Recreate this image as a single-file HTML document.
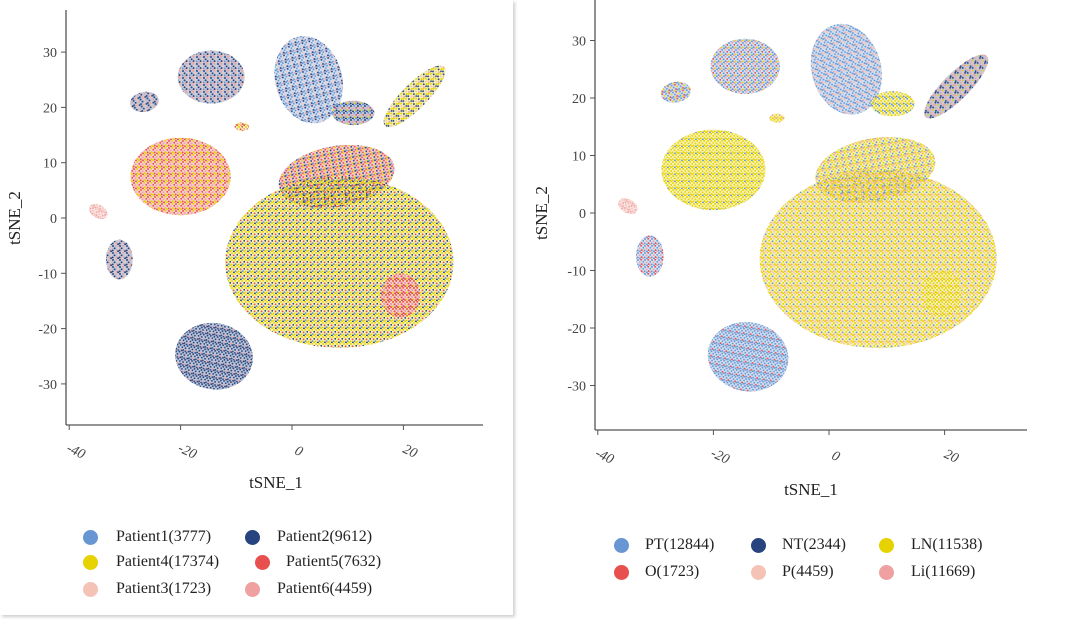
<!DOCTYPE html>
<html><head><meta charset="utf-8">
<style>
body{margin:0;background:#fff;width:1080px;height:619px;overflow:hidden;position:relative;font-family:"Liberation Serif","DejaVu Serif",serif;}
#card{position:absolute;left:0;top:0;width:513px;height:615px;background:#fff;box-shadow:2px 2px 3px #cfcfcf;}
svg{position:absolute;left:0;top:0;}
svg text{font-family:"Liberation Serif","DejaVu Serif",serif;}
.leg{position:absolute;font-size:16px;color:#222;white-space:nowrap;font-family:"Liberation Serif","DejaVu Serif",serif;}
.dot{position:absolute;width:15px;height:15px;border-radius:50%;}
</style></head><body>
<div id="card"></div>
<svg id="chart" width="1080" height="619"></svg>
<div id="legends"></div>
<script>
// ---- data ----
const xTicks=[-40,-20,0,20];
const yTicks=[30,20,10,0,-10,-20,-30];
// cluster shapes in tSNE units
const clusterNames=["top-mid","top-left","small-a","right-elong","small-b","left-big","main-top","main","red-spot","bottom-left","small-c","small-d","small-e"];
const clusterCx=[3,-14.5,-26.5,22,11,-20,8,8.5,19.5,-14,-34.8,-31,-9];
const clusterCy=[25,25.5,21,22,19,7.5,7.5,-8,-14,-25,1.2,-7.5,16.5];
const clusterRx=[6,6,2.6,7.5,3.8,9,10.5,20.5,3.5,7,1.8,2.4,1.3];
const clusterRy=[8,4.8,1.8,2.3,2.2,7,5.5,15.5,4,6,1.2,3.6,0.8];
const clusterRot=[-15,0,-10,-45,0,0,-10,0,0,10,30,0,0];
// colour mixes per cluster (left: patients, right: tissues)
const leftMix=["bnbpbnkb","nkpnbnkp","npkn","ynpnkyn","nbrkny","ryrkryry","rynrbyrn","yynrybny","rrkryr","nnnnnkn","kpkp","nkpn","yrkr"];
const rightMix=["bpbbkbpb","bkrbyb","bryb","nkyknpk","ybyyb","yyyyyyby","ykbyyb","ypybkypy","yyyypy","bbbbbrb","kpkp","brbk","yyyk"];
const colorMap={b:"#6896d2",n:"#27447f",y:"#e6d200",r:"#e8504f",p:"#f4c3b6",k:"#efa0a0"};
const leftLegend=[["Patient1(3777)","#6896d2",90,116,538],["Patient2(9612)","#27447f",252,277,538],["Patient4(17374)","#e6d200",90,116,563],["Patient5(7632)","#e8504f",262,286,563],["Patient3(1723)","#f4c3b6",90,116,590],["Patient6(4459)","#efa0a0",252,277,590]];
const rightLegend=[["PT(12844)","#6896d2",621,645,546],["NT(2344)","#27447f",758,782,546],["LN(11538)","#e6d200",886,911,546],["O(1723)","#e8504f",621,645,573],["P(4459)","#f4c3b6",758,782,573],["Li(11669)","#efa0a0",886,911,573]];

const NS="http://www.w3.org/2000/svg";
const svg=document.getElementById('chart');
const defs=document.createElementNS(NS,'defs');svg.appendChild(defs);
const slots=[[1,1],[4.2,0.8],[6.3,2.8],[2.6,3.3],[0.7,5.4],[4.6,5.1],[2.9,6.4],[6.1,6.2]];
function mkPattern(id,mix){
  const p=document.createElementNS(NS,'pattern');
  p.setAttribute('id',id);p.setAttribute('width',7);p.setAttribute('height',7);p.setAttribute('patternUnits','userSpaceOnUse');
  slots.forEach((s,i)=>{const c=document.createElementNS(NS,'circle');c.setAttribute('cx',s[0]);c.setAttribute('cy',s[1]);c.setAttribute('r',0.95);c.setAttribute('fill',colorMap[mix[i%mix.length]]);p.appendChild(c);});
  defs.appendChild(p);
}
function el(tag,attrs,parent){const e=document.createElementNS(NS,tag);for(const k in attrs)e.setAttribute(k,attrs[k]);(parent||svg).appendChild(e);return e;}

function drawPanel(P){
  const g=el('g',{});
  
  
  const sx=v=>P.x0+v*P.kx, sy=v=>P.y0-v*P.ky;
  const baseG=el('g',{opacity:0.28},g);
  const dotG=el('g',{},g);
  clusterNames.forEach((n,i)=>{
    const pid=P.name+'-pat-'+i;mkPattern(pid,P.mix[i]);
    const cx=sx(clusterCx[i]),cy=sy(clusterCy[i]);
    const base=el('ellipse',{cx:cx,cy:cy,rx:clusterRx[i]*P.kx,ry:clusterRy[i]*P.ky,fill:colorMap[P.mix[i][0]],transform:`rotate(${clusterRot[i]} ${cx} ${cy})`},baseG);
    
    
    const e=el('ellipse',{cx:cx,cy:cy,rx:clusterRx[i]*P.kx,ry:clusterRy[i]*P.ky,fill:`url(#${pid})`,transform:`rotate(${clusterRot[i]} ${cx} ${cy})`},dotG);
    
    
  });
  const ya=el('line',{x1:P.ax,y1:P.top,x2:P.ax,y2:P.ay,stroke:'#555','stroke-width':1.3},g);
  
  
  const xa=el('line',{x1:P.ax,y1:P.ay,x2:P.right,y2:P.ay,stroke:'#555','stroke-width':1.3},g);
  
  
  yTicks.forEach(t=>{
    el('line',{x1:P.ax-5,y1:sy(t),x2:P.ax,y2:sy(t),stroke:'#555'},g);
    const tx=el('text',{x:P.ax-9,y:sy(t)+5,'text-anchor':'end','font-size':14,fill:'#444'},g);
    tx.textContent=t;
    
    
  });
  xTicks.forEach(t=>{
    el('line',{x1:sx(t),y1:P.ay,x2:sx(t),y2:P.ay+5,stroke:'#555'},g);
    const x=sx(t),y=P.ay+30;
    const tx=el('text',{x:x+5,y:y,'text-anchor':'middle','font-size':14,fill:'#444','font-style':'italic',transform:`rotate(25 ${x+5} ${y})`},g);
    tx.textContent=t;
    
    
  });
  const xt=el('text',{x:P.xtX,y:P.xtY,'text-anchor':'middle','font-size':17,fill:'#222'},g);
  xt.textContent='tSNE_1';
  
  
  const yt=el('text',{x:P.ytX,y:P.ytY,'text-anchor':'middle','font-size':17,fill:'#222',transform:`rotate(-90 ${P.ytX} ${P.ytY})`},g);
  yt.textContent='tSNE_2';
  
  
}
drawPanel({name:'patient-chart',x0:292,kx:5.57,y0:218,ky:5.53,ax:66,ay:425,top:10,right:483,mix:leftMix,xtX:276,xtY:488,ytX:20,ytY:218});
drawPanel({name:'tissue-chart',x0:829,kx:5.78,y0:213,ky:5.75,ax:595,ay:430,top:0,right:1027,mix:rightMix,xtX:811,xtY:495,ytX:547,ytY:213});

const L=document.getElementById('legends');
function legend(arr,prefix){
  arr.forEach(a=>{
    const d=document.createElement('div');d.className='dot';d.style.background=a[1];d.style.left=(a[2]-7)+'px';d.style.top=(a[4]-8)+'px';
    
    
    L.appendChild(d);
    const t=document.createElement('div');t.className='leg';t.textContent=a[0];t.style.left=a[3]+'px';t.style.top=(a[4]-10)+'px';
    
    
    L.appendChild(t);
  });
}
legend(leftLegend,'patient');
legend(rightLegend,'tissue');
</script>
</body></html>
